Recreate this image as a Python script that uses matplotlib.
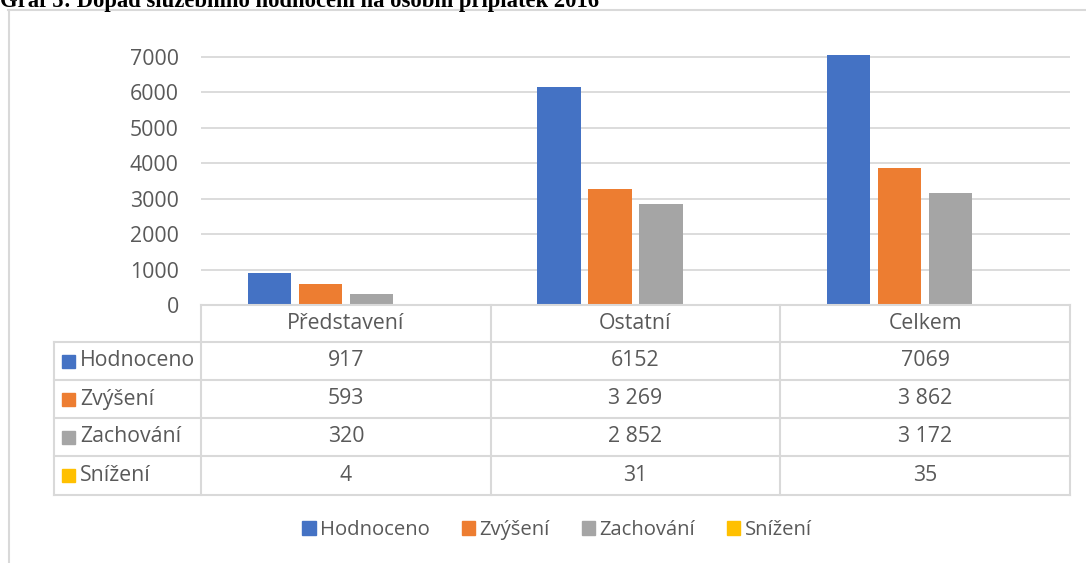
import matplotlib
matplotlib.use('Agg')
import matplotlib.pyplot as plt
from matplotlib.patches import Rectangle, Patch
from matplotlib.lines import Line2D
from matplotlib.transforms import blended_transform_factory

# data
categories = ['Představení', 'Ostatní', 'Celkem']
series_names = ['Hodnoceno', 'Zvýšení', 'Zachování', 'Snížení']
hodnoceno = [917, 6152, 7069]
zvyseni = [593, 3269, 3862]
zachovani = [320, 2852, 3172]
snizeni = [4, 31, 35]
table_text = [
    ['917', '6152', '7069'],
    ['593', '3 269', '3 862'],
    ['320', '2 852', '3 172'],
    ['4', '31', '35'],
]
yticks = [0, 1000, 2000, 3000, 4000, 5000, 6000, 7000]
colors = ['#4472C4', '#ED7D31', '#A5A5A5', '#FFC000']

W, H = 1086, 563
fig = plt.figure(figsize=(W / 100, H / 100), dpi=100)
plt.rcParams['font.family'] = ['Open Sans', 'DejaVu Sans']
txt_col = '#595959'
grid_col = '#D9D9D9'
fs = 15.3

def fx(px):
    return px / W

def fy(py):
    return 1 - py / H

# plot area in pixel coordinates
left, right, y0 = 201, 1070, 305
ymax = 7150
px_per_unit = (305 - 57) / 7000
top = y0 - ymax * px_per_unit
ax = fig.add_axes([fx(left), fy(y0), fx(right - left), (y0 - top) / H])

series = [hodnoceno, zvyseni, zachovani, snizeni]
bw = 0.149
step = 0.176
for k, vals in enumerate(series):
    xs = [i + (k - 1.5) * step for i in range(len(categories))]
    ax.bar(xs, vals, width=bw, color=colors[k], zorder=3)

ax.set_xlim(-0.5, len(categories) - 0.5)
ax.set_ylim(0, ymax)
ax.set_yticks(yticks)
ax.set_yticklabels([str(t) for t in yticks], fontsize=fs, color=txt_col)
ax.tick_params(axis='y', length=0, pad=16)
ax.set_xticks([])
ax.grid(axis='y', color=grid_col, lw=1.3, zorder=0)
for s in ax.spines.values():
    s.set_visible(False)

# data table below the plot
tr = blended_transform_factory(ax.transData, fig.transFigure)
row_edges = [305, 342, 380, 418, 456, 495]
tab_left = 54
lc = dict(color=grid_col, lw=1.5, transform=fig.transFigure, clip_on=False)

# horizontal lines
fig.add_artist(Line2D([fx(left), fx(right)], [fy(305), fy(305)], **lc))
for yy in row_edges[1:]:
    fig.add_artist(Line2D([fx(tab_left), fx(right)], [fy(yy), fy(yy)], **lc))
# vertical lines
fig.add_artist(Line2D([fx(tab_left), fx(tab_left)], [fy(342), fy(495)], **lc))
for i in range(len(categories) + 1):
    fig.add_artist(Line2D([i - 0.5, i - 0.5], [fy(305), fy(495)],
                          color=grid_col, lw=1.5, transform=tr, clip_on=False))

# header
for i, c in enumerate(categories):
    fig.text(i, fy((305 + 342) / 2), c, transform=tr, ha='center', va='center',
             fontsize=fs, color=txt_col)
# rows
for r, name in enumerate(series_names):
    yc = fy((row_edges[r + 1] + row_edges[r + 2]) / 2)
    fig.add_artist(Rectangle((fx(62), yc - 6.5 / H), 13 / W, 13 / H,
                             transform=fig.transFigure, color=colors[r]))
    fig.text(fx(80), yc, name, ha='left', va='center', fontsize=fs, color=txt_col)
    for i in range(len(categories)):
        fig.text(i, yc, table_text[r][i], transform=tr, ha='center', va='center',
                 fontsize=fs, color=txt_col)

# legend
handles = [Patch(color=c, label=n) for c, n in zip(colors, series_names)]
fig.legend(handles=handles, loc='center', bbox_to_anchor=(fx(557), fy(530)),
           ncol=4, frameon=False, fontsize=14.6, labelcolor=txt_col,
           handlelength=0.65, handleheight=0.65, handletextpad=0.2,
           columnspacing=1.6)

# chart frame
fig.add_artist(Line2D([fx(8.5), fx(8.5)], [fy(10), 0], color=grid_col, lw=1.5))
fig.add_artist(Line2D([fx(8), 1], [fy(10), fy(10)], color=grid_col, lw=1.5))

# title (cut at the top edge)
fig.text(0, fy(7), 'Graf 5: Dopad služebního hodnocení na osobní příplatek 2016',
         ha='left', va='baseline', fontsize=16.3, fontweight='bold',
         family=['Liberation Serif', 'DejaVu Serif'])

fig.savefig('out.png', dpi=100)
